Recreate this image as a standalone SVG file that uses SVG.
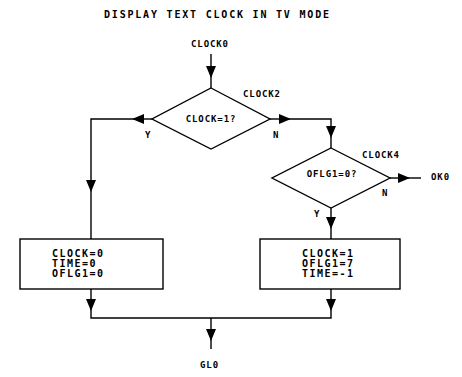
<svg xmlns="http://www.w3.org/2000/svg" width="462" height="377" viewBox="0 0 462 377">
  <style>
    text { font-family: "DejaVu Sans Mono", "Liberation Mono", monospace; font-weight: bold; fill: #000; }
    .title { font-size: 10px; letter-spacing: 1.8px; }
    .lbl { font-size: 9px; letter-spacing: 0.9px; }
    .body { font-size: 10px; letter-spacing: 1.5px; }
    .shape { fill: #fff; stroke: #000; stroke-width: 1.4; }
    .wire { fill: none; stroke: #000; stroke-width: 1.4; }
  </style>
  <defs>
    <marker id="arrow" viewBox="0 0 12 10" refX="12" refY="5" markerWidth="12" markerHeight="10" markerUnits="userSpaceOnUse" orient="auto">
      <path d="M0,0 L12,5 L0,10 Z" fill="#000"/>
    </marker>
  </defs>
  <rect width="462" height="377" fill="#fff"/>

  <text class="title" x="104" y="18">DISPLAY TEXT CLOCK IN TV MODE</text>
  <text class="lbl" x="191" y="47">CLOCK0</text>

  <!-- connectors -->
  <g id="connectors">
    <line class="wire" x1="211" y1="54" x2="211" y2="78" marker-end="url(#arrow)"/>
    <line class="wire" x1="211" y1="78" x2="211" y2="88"/>
    <!-- Y branch to the left -->
    <line class="wire" x1="152" y1="119" x2="132" y2="119" marker-end="url(#arrow)"/>
    <polyline class="wire" points="132,119 91,119 91,192" marker-end="url(#arrow)"/>
    <line class="wire" x1="91" y1="192" x2="91" y2="239"/>
    <!-- N branch to the right -->
    <line class="wire" x1="270" y1="119" x2="291" y2="119" marker-end="url(#arrow)"/>
    <polyline class="wire" points="291,119 331,119 331,138" marker-end="url(#arrow)"/>
    <line class="wire" x1="331" y1="138" x2="331" y2="148"/>
    <!-- OFLG1 test exits -->
    <line class="wire" x1="390" y1="178" x2="410" y2="178" marker-end="url(#arrow)"/>
    <line class="wire" x1="410" y1="178" x2="421" y2="178"/>
    <line class="wire" x1="331" y1="208" x2="331" y2="229" marker-end="url(#arrow)"/>
    <line class="wire" x1="331" y1="229" x2="331" y2="239"/>
    <!-- merge below the boxes -->
    <line class="wire" x1="91" y1="289" x2="91" y2="311" marker-end="url(#arrow)"/>
    <line class="wire" x1="331" y1="289" x2="331" y2="311" marker-end="url(#arrow)"/>
    <polyline class="wire" points="91,311 91,318 331,318 331,311"/>
    <line class="wire" x1="211" y1="318" x2="211" y2="341" marker-end="url(#arrow)"/>
    <line class="wire" x1="211" y1="341" x2="211" y2="349"/>
  </g>

  <g id="clock2">
    <polygon class="shape" points="211,88 270,119 211,149 152,119"/>
    <text class="lbl" x="211" y="122" text-anchor="middle">CLOCK=1?</text>
    <text class="lbl" x="243" y="97">CLOCK2</text>
    <text class="lbl" x="145" y="138">Y</text>
    <text class="lbl" x="273" y="138">N</text>
  </g>

  <g id="clock4">
    <polygon class="shape" points="331,148 390,178 331,208 272,178"/>
    <text class="lbl" x="332" y="177" text-anchor="middle">OFLG1=0?</text>
    <text class="lbl" x="362" y="158">CLOCK4</text>
    <text class="lbl" x="382" y="196">N</text>
    <text class="lbl" x="314" y="217">Y</text>
  </g>

  <g id="ok0">
    <text class="lbl" x="431" y="180">OK0</text>
  </g>

  <g id="reset-box">
    <rect class="shape" x="20" y="239" width="143" height="50"/>
    <text class="body" x="52" y="257">CLOCK=0</text>
    <text class="body" x="52" y="267">TIME=0</text>
    <text class="body" x="52" y="277">OFLG1=0</text>
  </g>

  <g id="set-box">
    <rect class="shape" x="260" y="239" width="140" height="50"/>
    <text class="body" x="302" y="257">CLOCK=1</text>
    <text class="body" x="302" y="267">OFLG1=7</text>
    <text class="body" x="302" y="277">TIME=-1</text>
  </g>

  <g id="gl0">
    <text class="lbl" x="200" y="368">GL0</text>
  </g>
</svg>
